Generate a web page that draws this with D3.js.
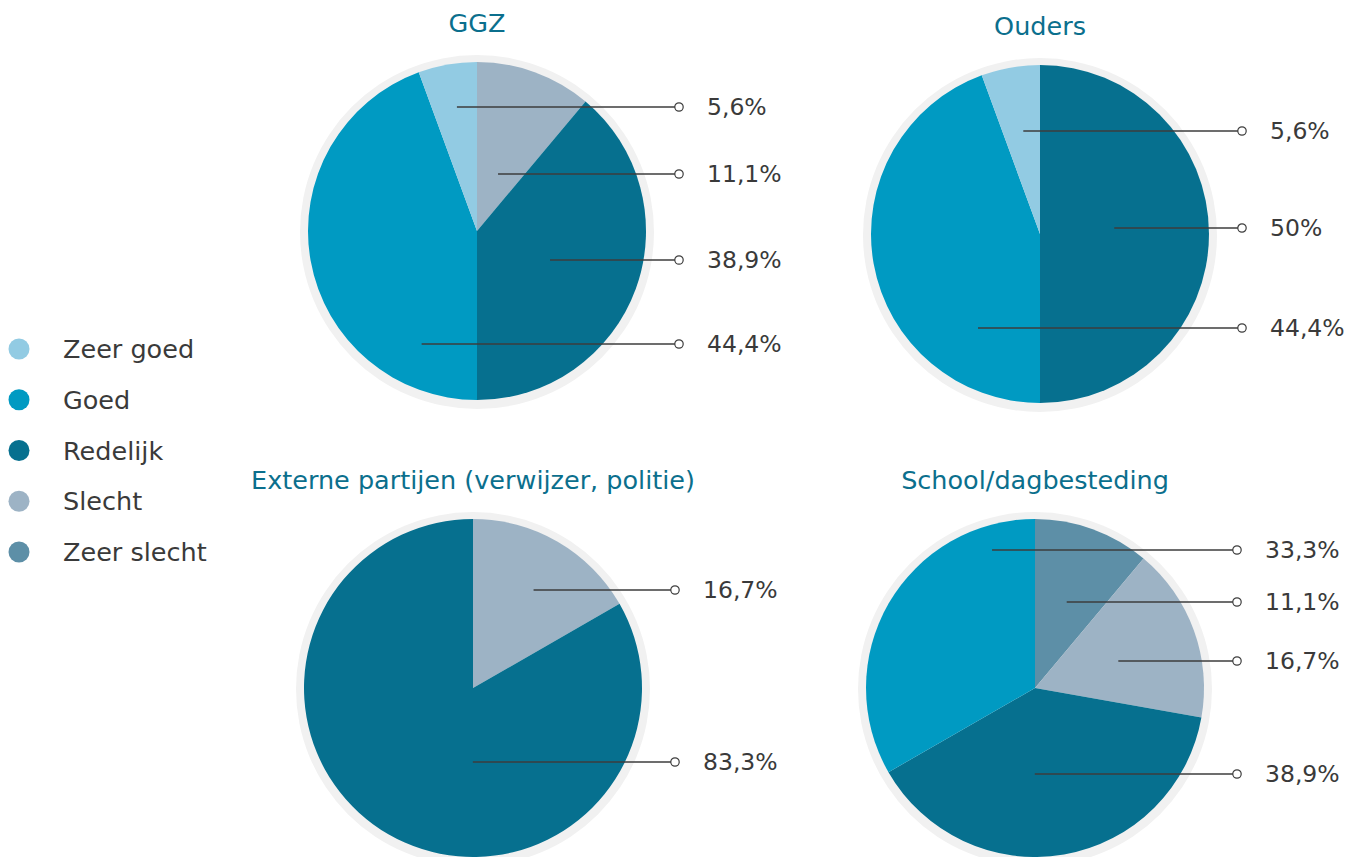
<!DOCTYPE html>
<html>
<head>
<meta charset="utf-8">
<script src="https://cdn.jsdelivr.net/npm/d3@7"></script>
<style>
  body { margin: 0; background: #fff; }
  svg { display: block; font-family: "DejaVu Sans", sans-serif; }
</style>
</head>
<body>
<svg id="chart" width="1360" height="857"></svg>
<script>
// categories + colours (legend order)
var categories = ['Zeer goed', 'Goed', 'Redelijk', 'Slecht', 'Zeer slecht'];
var catColors = ['#92cbe3', '#009ac2', '#06708f', '#9db3c5', '#5d8fa7'];

// slices, clockwise from 12 o'clock
var ggzCats = ['Slecht', 'Redelijk', 'Goed', 'Zeer goed'];
var ggzValues = [11.1, 38.9, 44.4, 5.6];

var oudersCats = ['Redelijk', 'Goed', 'Zeer goed'];
var oudersValues = [50, 44.4, 5.6];

var externeCats = ['Slecht', 'Redelijk'];
var externeValues = [16.7, 83.3];

var schoolCats = ['Zeer slecht', 'Slecht', 'Redelijk', 'Goed'];
var schoolValues = [11.1, 16.7, 38.9, 33.3];

var titles = ['GGZ', 'Ouders', 'Externe partijen (verwijzer, politie)', 'School/dagbesteding'];

// ---- layout (not data) ----
var radius = 169
var ringRadius = 177
var centers = [[477, 231], [1040, 234], [473, 688], [1035, 688]]
// vertical offset of each label row from the pie centre, per slice category
var labelRows = [
  { 'Zeer goed': -124, 'Slecht': -57, 'Redelijk': 29, 'Goed': 113 },
  { 'Zeer goed': -103, 'Redelijk': -6, 'Goed': 94 },
  { 'Slecht': -98, 'Redelijk': 74 },
  { 'Goed': -138, 'Zeer slecht': -86, 'Slecht': -27, 'Redelijk': 86 }
]

var charts = [
  { cats: ggzCats, values: ggzValues },
  { cats: oudersCats, values: oudersValues },
  { cats: externeCats, values: externeValues },
  { cats: schoolCats, values: schoolValues }
]

var color = d3.scaleOrdinal().domain(categories).range(catColors)
var nl = d3.formatLocale({ decimal: ',', thousands: '.', grouping: [3], currency: ['€', ''] })
var fmt = nl.format('.1~f')

var svg = d3.select('#chart')

var pie = d3.pie().sort(null).value(d => d.value)
var arc = d3.arc().innerRadius(0).outerRadius(radius)

// middle of the slice's horizontal chord at offset dy (pulled a bit toward the centre)
function chordMid(d, dy) {
  var half = Math.sqrt(radius * radius - dy * dy)
  var lo = null, hi = null
  for (var x = -half; x <= half; x += 0.5) {
    var a = Math.atan2(x, -dy)
    if (a < 0) a += 2 * Math.PI
    if (a >= d.startAngle && a <= d.endAngle) {
      if (lo === null) lo = x
      hi = x
    }
  }
  return lo === null ? 0 : 0.88 * (lo + hi) / 2
}

charts.forEach((c, i) => {
  var data = c.cats.map((k, j) => ({ cat: k, value: c.values[j] }))
  var g = svg.append('g')
    .attr('transform', 'translate(' + centers[i][0] + ',' + centers[i][1] + ')')

  // light ring behind the pie
  g.append('circle')
    .attr('r', ringRadius)
    .attr('cy', 1)
    .attr('fill', '#f1f1f1')

  g.selectAll('path.slice')
    .data(pie(data))
    .enter().append('path')
    .attr('class', 'slice')
    .attr('d', arc)
    .attr('fill', d => color(d.data.cat))

  g.append('text')
    .attr('y', -199)
    .attr('text-anchor', 'middle')
    .attr('fill', '#0b6f8d')
    .style('font-size', '25.5px')
    .text(titles[i])

  var endX = radius + 33
  var lbl = g.selectAll('g.lbl')
    .data(pie(data))
    .enter().append('g')
    .attr('class', 'lbl')

  lbl.append('line')
    .attr('x1', d => chordMid(d, labelRows[i][d.data.cat]))
    .attr('x2', endX)
    .attr('y1', d => labelRows[i][d.data.cat])
    .attr('y2', d => labelRows[i][d.data.cat])
    .attr('stroke', '#3d3d3d')
    .attr('stroke-width', 1.3)

  lbl.append('circle')
    .attr('cx', endX)
    .attr('cy', d => labelRows[i][d.data.cat])
    .attr('r', 4.2)
    .attr('fill', '#fff')
    .attr('stroke', '#3d3d3d')
    .attr('stroke-width', 1.2)

  lbl.append('text')
    .attr('x', endX + 28)
    .attr('y', d => labelRows[i][d.data.cat])
    .attr('dy', '0.36em')
    .attr('fill', '#3a3a3a')
    .style('font-size', '23.5px')
    .text(d => fmt(d.data.value) + '%')
})

// legend
var legend = svg.append('g')
var ly = d3.scalePoint().domain(categories).range([349, 552])

legend.selectAll('circle')
  .data(categories)
  .enter().append('circle')
  .attr('cx', 19)
  .attr('cy', d => ly(d))
  .attr('r', 10.5)
  .attr('fill', d => color(d))

legend.selectAll('text')
  .data(categories)
  .enter().append('text')
  .attr('x', 63)
  .attr('y', d => ly(d))
  .attr('dy', '0.36em')
  .attr('fill', '#3a3a3a')
  .style('font-size', '25.5px')
  .text(d => d)
</script>
</body>
</html>
